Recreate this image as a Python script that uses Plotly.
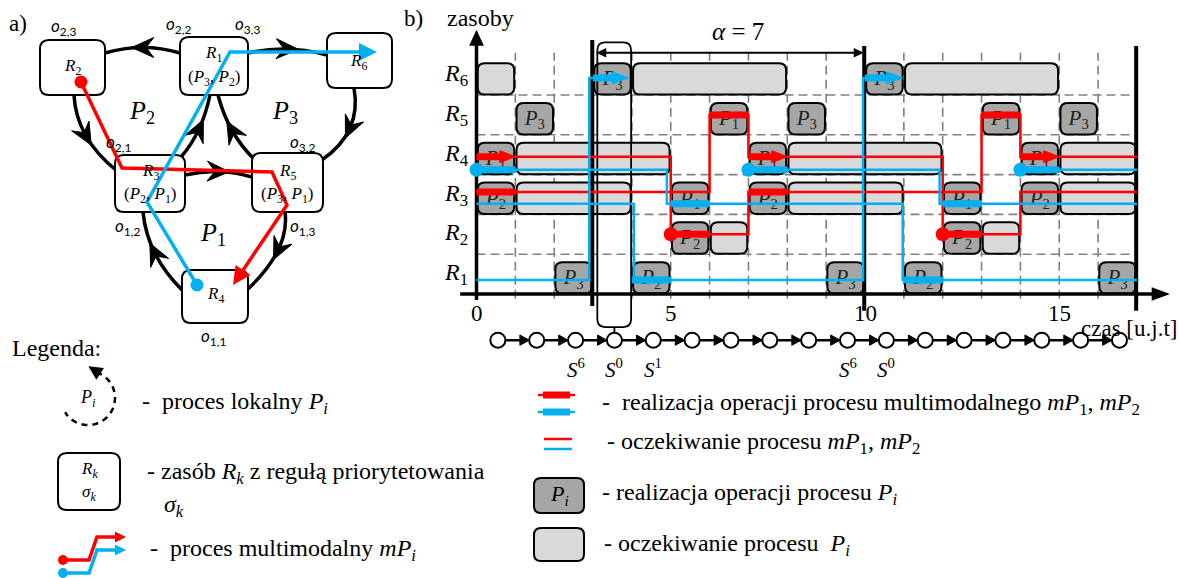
import math
import plotly.graph_objects as go

# ---------------------------------------------------------------------------
# Cyclic schedule: local processes P1..P3 and multimodal processes mP1, mP2
# ---------------------------------------------------------------------------
resource_rows = [1, 2, 3, 4, 5, 6]
resource_names = ["R1", "R2", "R3", "R4", "R5", "R6"]
time_ticks = [0, 5, 10, 15]
horizon = 17
period_marks = [3, 10, 17]
alpha_value = 7
alpha_from, alpha_to = 3.08, 9.97

# operations of local processes (dark boxes)
op_row = [6, 6, 5, 5, 5, 5, 5, 4, 4, 4, 3, 3, 3, 3, 3, 2, 2, 1, 1, 1, 1, 1]
op_start = [3, 10, 1, 6, 8, 13, 15, 0, 7, 14, 0, 5, 7, 12, 14, 5, 12, 2, 4, 9, 11, 16]
op_end = [4, 11, 2, 7, 9, 14, 16, 1, 8, 15, 1, 6, 8, 13, 15, 6, 13, 3, 5, 10, 12, 17]
op_proc = [3, 3, 3, 1, 3, 1, 3, 1, 1, 1, 2, 1, 2, 1, 2, 2, 2, 3, 2, 3, 2, 3]

# waiting of local processes (light boxes)
wait_row = [6, 6, 6, 4, 4, 4, 3, 3, 3, 2, 2]
wait_start = [0, 4, 11, 1, 8, 15, 1, 8, 15, 6, 13]
wait_end = [1, 8, 15, 5, 12, 17, 4, 11, 17, 7, 14]

# multimodal process steps: (resource row, start, end, is_operation)
mp1_paths = [
    [(4, 0, 1, 1), (4, 1, 5, 0), (2, 5, 6, 1), (2, 6, 7, 0), (3, 7, 8, 1),
     (3, 8, 13, 0), (5, 13, 14, 1), (4, 14, 15, 1), (4, 15, 17, 0)],
    [(3, 0, 1, 1), (3, 1, 6, 0), (5, 6, 7, 1), (4, 7, 8, 1), (4, 8, 12, 0),
     (2, 12, 13, 1), (2, 13, 14, 0), (3, 14, 17, 0)],
]
mp2_paths = [
    [(4, 0, 1, 1), (4, 1, 4.9, 0), (3, 5, 6, 1), (3, 6, 10.97, 0),
     (1, 11, 12, 1), (1, 12, 17, 0)],
    [(4, 7, 8, 1), (4, 8, 11.92, 0), (3, 12, 13, 1), (3, 13, 17, 0)],
    [(4, 14, 15, 1), (4, 15, 17, 0)],
    [(3, 0, 4.05, 0), (1, 4, 5, 1), (1, 5, 9.95, 0), (6, 10, 10.96, 1)],
    [(1, 0, 2.9, 0), (6, 3, 3.9, 1)],
]
mp1_first, mp1_last = 2, 4      # route of mP1: R2 -> R3 -> R5 -> R4
mp2_first, mp2_last = 4, 6      # route of mP2: R4 -> R3 -> R1 -> R6

# states of the cyclic steady state
state_count = 17
state_labels = {2: "6", 3: "0", 4: "1", 9: "6", 10: "0"}
state_box_index = 3

# ---------------------------------------------------------------------------
# styling
# ---------------------------------------------------------------------------
W, H = 1179, 578
RED, BLUE = "#ff0000", "#00b0f0"
DARK, LIGHT = "#a6a6a6", "#d9d9d9"
GRID = "#808080"
SERIF = "Liberation Serif, Tinos, Times New Roman, DejaVu Serif, serif"
SANS = "Lato, Carlito, Open Sans, sans-serif"

PX_T, PX_R = 38.85, 39.8          # pixels per time unit / per resource row
T0_PX, Y0_PX = 476.5, 294.0       # origin of the time chart
x_range = [-T0_PX / PX_T, (W - T0_PX) / PX_T]
y_range = [-(H - Y0_PX) / PX_R, Y0_PX / PX_R]

mp1_lane = {2: 1.5, 3: 2.56, 4: 3.45, 5: 4.5}
mp2_lane = {1: 0.35, 3: 2.27, 4: 3.12, 6: 5.43}
ARROW_L, ARROW_H = 0.4, 0.15

shapes, annos = [], []


def rrect(x0, y0, x1, y1, rx, ry):
    return (f"M{x0 + rx},{y0} L{x1 - rx},{y0} Q{x1},{y0} {x1},{y0 + ry} "
            f"L{x1},{y1 - ry} Q{x1},{y1} {x1 - rx},{y1} L{x0 + rx},{y1} "
            f"Q{x0},{y1} {x0},{y1 - ry} L{x0},{y0 + ry} Q{x0},{y0} {x0 + rx},{y0} Z")


def text(x, y, s, size, ref="x2", family=SERIF, xanchor="center", color="black"):
    annos.append(dict(x=x, y=y, xref=ref, yref=ref.replace("x", "y"), text=s,
                      showarrow=False, xanchor=xanchor, yanchor="middle",
                      font=dict(family=family, size=size, color=color)))


def gline(x0, y0, x1, y1, width, color="black", dash=None, ref="x", layer="below"):
    ln = dict(color=color, width=width)
    if dash:
        ln["dash"] = dash
    shapes.append(dict(type="line", xref=ref, yref=ref.replace("x", "y"),
                       x0=x0, y0=y0, x1=x1, y1=y1, line=ln, layer=layer))


def tri_path(x0, y0, x1, y1, length, half):
    """Filled arrow head with its tip at (x1, y1) pointing from (x0, y0)."""
    dx, dy = x1 - x0, y1 - y0
    n = math.hypot(dx, dy)
    dx, dy = dx / n, dy / n
    bx, by = x1 - dx * length, y1 - dy * length
    return (f"M{x1},{y1} L{bx - dy * half},{by + dx * half} "
            f"L{bx + dy * half},{by - dx * half} Z")


# ---------------------------------------------------------------------------
# (b) time chart
# ---------------------------------------------------------------------------
for t in range(1, horizon):
    gline(t, -0.12, t, 6.06, 1.6, GRID, "9px,5px")
for r in resource_rows[:-1]:
    gline(0, r, horizon, r, 1.6, GRID, "9px,5px")

box_rx, box_ry = 7 / PX_T, 7 / PX_R
for r, s, e in zip(wait_row, wait_start, wait_end):
    shapes.append(dict(type="path", xref="x", yref="y", layer="below",
                       path=rrect(s + 0.03, r - 0.99, e - 0.03, r - 0.2, box_rx, box_ry),
                       fillcolor=LIGHT, line=dict(color="black", width=2)))
for r, s, e in zip(op_row, op_start, op_end):
    shapes.append(dict(type="path", xref="x", yref="y", layer="below",
                       path=rrect(s + 0.03, r - 0.99, e - 0.03, r - 0.2, box_rx, box_ry),
                       fillcolor=DARK, line=dict(color="black", width=2)))

# cycle boundaries
for i, t in enumerate(period_marks):
    gline(t - 0.02, -0.3 if i == 0 else -0.42, t - 0.02, 6.38 if i == 0 else 6.23, 4)

# frame around the initial state column
st_x = state_box_index + 0.55
shapes.append(dict(type="path", xref="x", yref="y", layer="below",
                   path=rrect(st_x - 0.44, -0.83, st_x + 0.43, 6.32, 0.2, 0.2),
                   fillcolor="rgba(0,0,0,0)", line=dict(color="black", width=1.8)))
gline(st_x, -0.83, st_x, -0.98, 1.8)

# axes with arrows
gline(0, -0.15, 0, 6.3, 3.5)
shapes.append(dict(type="path", xref="x", yref="y", layer="below",
                   path=tri_path(0, 6.0, 0, 6.64, 0.4, 0.19),
                   fillcolor="black", line=dict(color="black", width=0)))
gline(-0.42, 0, 17.45, 0, 3.5)
shapes.append(dict(type="path", xref="x", yref="y", layer="below",
                   path=tri_path(17.0, 0, 17.85, 0, 0.47, 0.17),
                   fillcolor="black", line=dict(color="black", width=0)))

# alpha span arrow
gline(alpha_from + 0.2, 6.06, alpha_to - 0.2, 6.06, 2)
for a, b in ((alpha_to, alpha_from), (alpha_from, alpha_to)):
    shapes.append(dict(type="path", xref="x", yref="y", layer="below",
                       path=tri_path(b, 6.06, a, 6.06, 0.26, 0.12),
                       fillcolor="black", line=dict(color="black", width=0)))
text((alpha_from + alpha_to) / 2 + 0.2, 6.6, f"<i>α</i> = {alpha_value}", 25, ref="x")

# labels of the time chart
for r, name in zip(resource_rows, resource_names):
    text(-0.52, r - 0.5, f"<i>{name[0]}</i><sub>{name[1:]}</sub>", 24, ref="x")
for t in time_ticks:
    text(t, -0.5, str(t), 23, ref="x")
text(18.07, -0.86, "czas [u.j.t]", 23, ref="x", xanchor="right")
text(-0.82, 6.93, "zasoby", 24, ref="x", xanchor="left")
text(-1.62, 6.93, "b)", 23, ref="x")

# labels inside operation boxes (kept under the process lines)
fig = go.Figure()
fig.add_trace(go.Scatter(
    x=[(s + e) / 2 for s, e in zip(op_start, op_end)],
    y=[r - 0.62 for r in op_row],
    text=[f"<i>P</i><sub>{p}</sub>" for p in op_proc],
    mode="text", textfont=dict(family=SERIF, size=21, color="#222222"),
    hoverinfo="skip", xaxis="x", yaxis="y"))


def add_process(paths, lane, first, last, color):
    tx, ty, kx, ky, ax, ay, dx, dy = [], [], [], [], [], [], [], []
    for steps in paths:
        px, py = [], []
        for i, (r, s, e, is_op) in enumerate(steps):
            y = lane[r]
            if i == 0:
                px.append(s); py.append(y)
            else:
                px.append(px[-1]); py.append(y)
            px.append(e); py.append(y)
            if is_op:
                end = e - ARROW_L + 0.02 if r == last else e
                kx += [s, end, None]; ky += [y, y, None]
                if r == last:
                    ax += [e, e - ARROW_L, e - ARROW_L, e, None]
                    ay += [y, y + ARROW_H, y - ARROW_H, y, None]
                if r == first:
                    dx.append(s); dy.append(y)
        tx += px + [None]; ty += py + [None]
    fig.add_trace(go.Scatter(x=tx, y=ty, mode="lines", hoverinfo="skip",
                             line=dict(color=color, width=2.5)))
    fig.add_trace(go.Scatter(x=kx, y=ky, mode="lines", hoverinfo="skip",
                             line=dict(color=color, width=7)))
    if ax:
        fig.add_trace(go.Scatter(x=ax, y=ay, mode="lines", fill="toself",
                                 fillcolor=color, hoverinfo="skip",
                                 line=dict(color=color, width=1)))
    if dx:
        fig.add_trace(go.Scatter(x=dx, y=dy, mode="markers", hoverinfo="skip",
                                 marker=dict(color=color, size=14)))


add_process(mp1_paths, mp1_lane, mp1_first, mp1_last, RED)
add_process(mp2_paths, mp2_lane, mp2_first, mp2_last, BLUE)

# sequence of states below the time axis
st_t = [i + 0.55 for i in range(state_count)]
st_y = -1.16
fig.add_trace(go.Scatter(x=[st_t[0], st_t[-1]], y=[st_y, st_y], mode="lines",
                         line=dict(color="black", width=2.5), hoverinfo="skip"))
hx, hy = [], []
r_circ = 7.5 / PX_T
for a, b in zip(st_t[:-1], st_t[1:]):
    tip = b - r_circ
    hx += [tip, tip - 0.24, tip - 0.24, tip, None]
    hy += [st_y, st_y + 0.13, st_y - 0.13, st_y, None]
fig.add_trace(go.Scatter(x=hx, y=hy, mode="lines", fill="toself", fillcolor="black",
                         line=dict(color="black", width=1), hoverinfo="skip"))
fig.add_trace(go.Scatter(x=st_t, y=[st_y] * state_count, mode="markers", hoverinfo="skip",
                         marker=dict(size=15, color="white",
                                     line=dict(color="black", width=2))))
for i, sup in state_labels.items():
    text(st_t[i], -1.86, f"<i>S</i><sup>{sup}</sup>", 21, ref="x")

# ---------------------------------------------------------------------------
# (a) resource graph
# ---------------------------------------------------------------------------
nodes = {
    "R2": (40, 40, 105, 95), "R1": (180, 37, 248, 95), "R6": (327, 33, 392, 88),
    "R3": (115, 155, 185, 212), "R5": (252, 153, 323, 212), "R4": (182, 270, 248, 323),
}
arcs = [
    ((180, 53), (143, 42), (105, 53)),    # R1 -> R2
    ((248, 53), (287, 44), (327, 55)),    # R1 -> R6
    ((354, 88), (362, 132), (322, 160)),  # R6 -> R5
    ((74, 95), (76, 138), (117, 171)),    # R2 -> R3
    ((181, 157), (202, 133), (210, 95)),  # R3 -> R1
    ((255, 160), (228, 134), (218, 95)),  # R5 -> R1
    ((185, 175), (218, 167), (252, 177)), # R3 -> R5
    ((182, 290), (147, 255), (143, 212)), # R4 -> R3
    ((285, 212), (290, 249), (248, 289)), # R5 -> R4
]
for a, c, b in arcs:
    shapes.append(dict(type="path", xref="x2", yref="y2", layer="below",
                       path=f"M{a[0]},{a[1]} Q{c[0]},{c[1]} {b[0]},{b[1]}",
                       line=dict(color="black", width=3.5)))
    mx = 0.25 * a[0] + 0.5 * c[0] + 0.25 * b[0]
    my = 0.25 * a[1] + 0.5 * c[1] + 0.25 * b[1]
    ux, uy = b[0] - a[0], b[1] - a[1]
    n = math.hypot(ux, uy)
    ux, uy = ux / n, uy / n
    nx, ny = -uy, ux
    L, Wd = 11, 10
    pts = [(mx + ux * L, my + uy * L),
           (mx - ux * L + nx * Wd, my - uy * L + ny * Wd),
           (mx - ux * L * 0.3, my - uy * L * 0.3),
           (mx - ux * L - nx * Wd, my - uy * L - ny * Wd)]
    shapes.append(dict(type="path", xref="x2", yref="y2", layer="below",
                       path="M" + " L".join(f"{x},{y}" for x, y in pts) + " Z",
                       fillcolor="black", line=dict(color="black", width=1)))
for name, (x0, y0, x1, y1) in nodes.items():
    shapes.append(dict(type="path", xref="x2", yref="y2", layer="below",
                       path=rrect(x0, y0, x1, y1, 9, 9), fillcolor="white",
                       line=dict(color="black", width=2)))

text(18, 23, "a)", 23, xanchor="center")
node_text = [
    (72, 67, "<i>R</i><sub>2</sub>"), (213, 54, "<i>R</i><sub>1</sub>"),
    (214, 78, "(<i>P</i><sub>3</sub>, <i>P</i><sub>2</sub>)"),
    (358, 62, "<i>R</i><sub>6</sub>"), (150, 172, "<i>R</i><sub>3</sub>"),
    (150, 195, "(<i>P</i><sub>2</sub>, <i>P</i><sub>1</sub>)"),
    (287, 172, "<i>R</i><sub>5</sub>"),
    (287, 195, "(<i>P</i><sub>3</sub>, <i>P</i><sub>1</sub>)"),
    (215, 295, "<i>R</i><sub>4</sub>"),
]
for x, y, s in node_text:
    text(x, y, s, 17)
for x, y, s in [(142, 112, "2"), (285, 112, "3"), (213, 234, "1")]:
    text(x, y, f"<i>P</i><sub>{s}</sub>", 26)
op_labels = [(63, 27, "2,3"), (178, 25, "2,2"), (247, 25, "3,3"), (118, 143, "2,1"),
             (302, 143, "3,2"), (127, 227, "1,2"), (302, 227, "1,3"), (213, 337, "1,1")]
for x, y, s in op_labels:
    text(x, y, f"<i>o</i><sub>{s}</sub>", 17, family=SANS)

routes = [
    ([(81, 82), (122, 168), (272, 172), (287, 205), (233, 285)], RED),
    ([(197, 285), (147, 202), (230, 52), (377, 52)], BLUE),
]
for pts, col in routes:
    (x0, y0), (x1, y1) = pts[-2], pts[-1]
    n = math.hypot(x1 - x0, y1 - y0)
    bx, by = x1 - (x1 - x0) / n * 14, y1 - (y1 - y0) / n * 14
    xs = [p[0] for p in pts[:-1]] + [bx]
    ys = [p[1] for p in pts[:-1]] + [by]
    fig.add_trace(go.Scatter(x=xs, y=ys, mode="lines", line=dict(color=col, width=3.5),
                             xaxis="x2", yaxis="y2", hoverinfo="skip"))
    shapes.append(dict(type="path", xref="x2", yref="y2", layer="above",
                       path=tri_path(x0, y0, x1, y1, 18, 9), fillcolor=col,
                       line=dict(color=col, width=0)))
    fig.add_trace(go.Scatter(x=[pts[0][0]], y=[pts[0][1]], mode="markers",
                             marker=dict(color=col, size=13), xaxis="x2", yaxis="y2",
                             hoverinfo="skip"))

# ---------------------------------------------------------------------------
# legend
# ---------------------------------------------------------------------------
text(10, 348, "Legenda:", 24, xanchor="left")

cx, cy, rr = 88, 398, 27
arc = [(cx + rr * math.cos(math.radians(a)), cy + rr * math.sin(math.radians(a)))
       for a in range(-72, 152, 4)]
shapes.append(dict(type="path", xref="x2", yref="y2", layer="above",
                   path="M" + " L".join(f"{x:.1f},{y:.1f}" for x, y in arc),
                   line=dict(color="black", width=2.5, dash="6px,5px")))
a0 = math.radians(-72)
sx, sy = cx + rr * math.cos(a0), cy + rr * math.sin(a0)
shapes.append(dict(type="path", xref="x2", yref="y2", layer="above",
                   path=tri_path(sx + 6, sy + 3, sx - 8, sy - 6, 14, 7),
                   fillcolor="black", line=dict(color="black", width=0)))
text(cx, cy, "<i>P</i><sub><i>i</i></sub>", 18)
text(140, 403, "-  proces lokalny <i>P</i><sub><i>i</i></sub>", 24, xanchor="left")

shapes.append(dict(type="path", xref="x2", yref="y2", layer="above",
                   path=rrect(58, 453, 120, 510, 9, 9), fillcolor="white",
                   line=dict(color="black", width=2)))
text(89, 470, "<i>R</i><sub><i>k</i></sub>", 17)
text(89, 493, "<i>σ</i><sub><i>k</i></sub>", 17)
text(145, 473, "- zasób <i>R</i><sub><i>k</i></sub> z regułą priorytetowania", 24,
     xanchor="left")
text(174, 506, "<i>σ</i><sub><i>k</i></sub>", 24)

for col, yb, yt in ((RED, 560, 537), (BLUE, 573, 550)):
    fig.add_trace(go.Scatter(x=[63, 89, 97, 117], y=[yb, yb, yt, yt], mode="lines",
                             line=dict(color=col, width=3.5), xaxis="x2", yaxis="y2",
                             hoverinfo="skip"))
    fig.add_trace(go.Scatter(x=[63], y=[yb], mode="markers", marker=dict(color=col, size=10),
                             xaxis="x2", yaxis="y2", hoverinfo="skip"))
    shapes.append(dict(type="path", xref="x2", yref="y2", layer="above",
                       path=tri_path(110, yt, 126, yt, 11, 5.5), fillcolor=col,
                       line=dict(color=col, width=0)))
text(148, 550, "-  proces multimodalny <i>mP</i><sub><i>i</i></sub>", 24, xanchor="left")

for col, y in ((RED, 395), (BLUE, 412)):
    fig.add_trace(go.Scatter(x=[538, 575], y=[y, y], mode="lines", line=dict(color=col, width=2.5),
                             xaxis="x2", yaxis="y2", hoverinfo="skip"))
    fig.add_trace(go.Scatter(x=[543, 570], y=[y, y], mode="lines", line=dict(color=col, width=7),
                             xaxis="x2", yaxis="y2", hoverinfo="skip"))
for col, y in ((RED, 439), (BLUE, 449)):
    fig.add_trace(go.Scatter(x=[544, 572], y=[y, y], mode="lines", line=dict(color=col, width=2.5),
                             xaxis="x2", yaxis="y2", hoverinfo="skip"))
text(600, 404, "-  realizacja operacji procesu multimodalnego "
     "<i>mP</i><sub>1</sub>, <i>mP</i><sub>2</sub>", 24, xanchor="left")
text(605, 443, "- oczekiwanie procesu <i>mP</i><sub>1</sub>, <i>mP</i><sub>2</sub>", 24,
     xanchor="left")

shapes.append(dict(type="path", xref="x2", yref="y2", layer="above",
                   path=rrect(534, 478, 584, 513, 7, 7), fillcolor=DARK,
                   line=dict(color="black", width=2)))
text(559, 495, "<i>P</i><sub><i>i</i></sub>", 22)
text(600, 494, "- realizacja operacji procesu <i>P</i><sub><i>i</i></sub>", 24, xanchor="left")
shapes.append(dict(type="path", xref="x2", yref="y2", layer="above",
                   path=rrect(534, 528, 584, 561, 7, 7), fillcolor=LIGHT,
                   line=dict(color="black", width=2)))
text(602, 545, "- oczekiwanie procesu  <i>P</i><sub><i>i</i></sub>", 24, xanchor="left")

# ---------------------------------------------------------------------------
axis_off = dict(visible=False, showgrid=False, zeroline=False, fixedrange=True)
fig.update_layout(
    width=W, height=H, autosize=False,
    margin=dict(l=0, r=0, t=0, b=0, pad=0),
    paper_bgcolor="white", plot_bgcolor="white", showlegend=False,
    font=dict(family=SERIF),
    xaxis=dict(range=x_range, domain=[0, 1], **axis_off),
    yaxis=dict(range=y_range, domain=[0, 1], **axis_off),
    xaxis2=dict(range=[0, W], domain=[0, 1], overlaying="x", anchor="y2", **axis_off),
    yaxis2=dict(range=[H, 0], domain=[0, 1], overlaying="y", anchor="x2", **axis_off),
    shapes=shapes, annotations=annos,
)
fig.write_html("out.html")
